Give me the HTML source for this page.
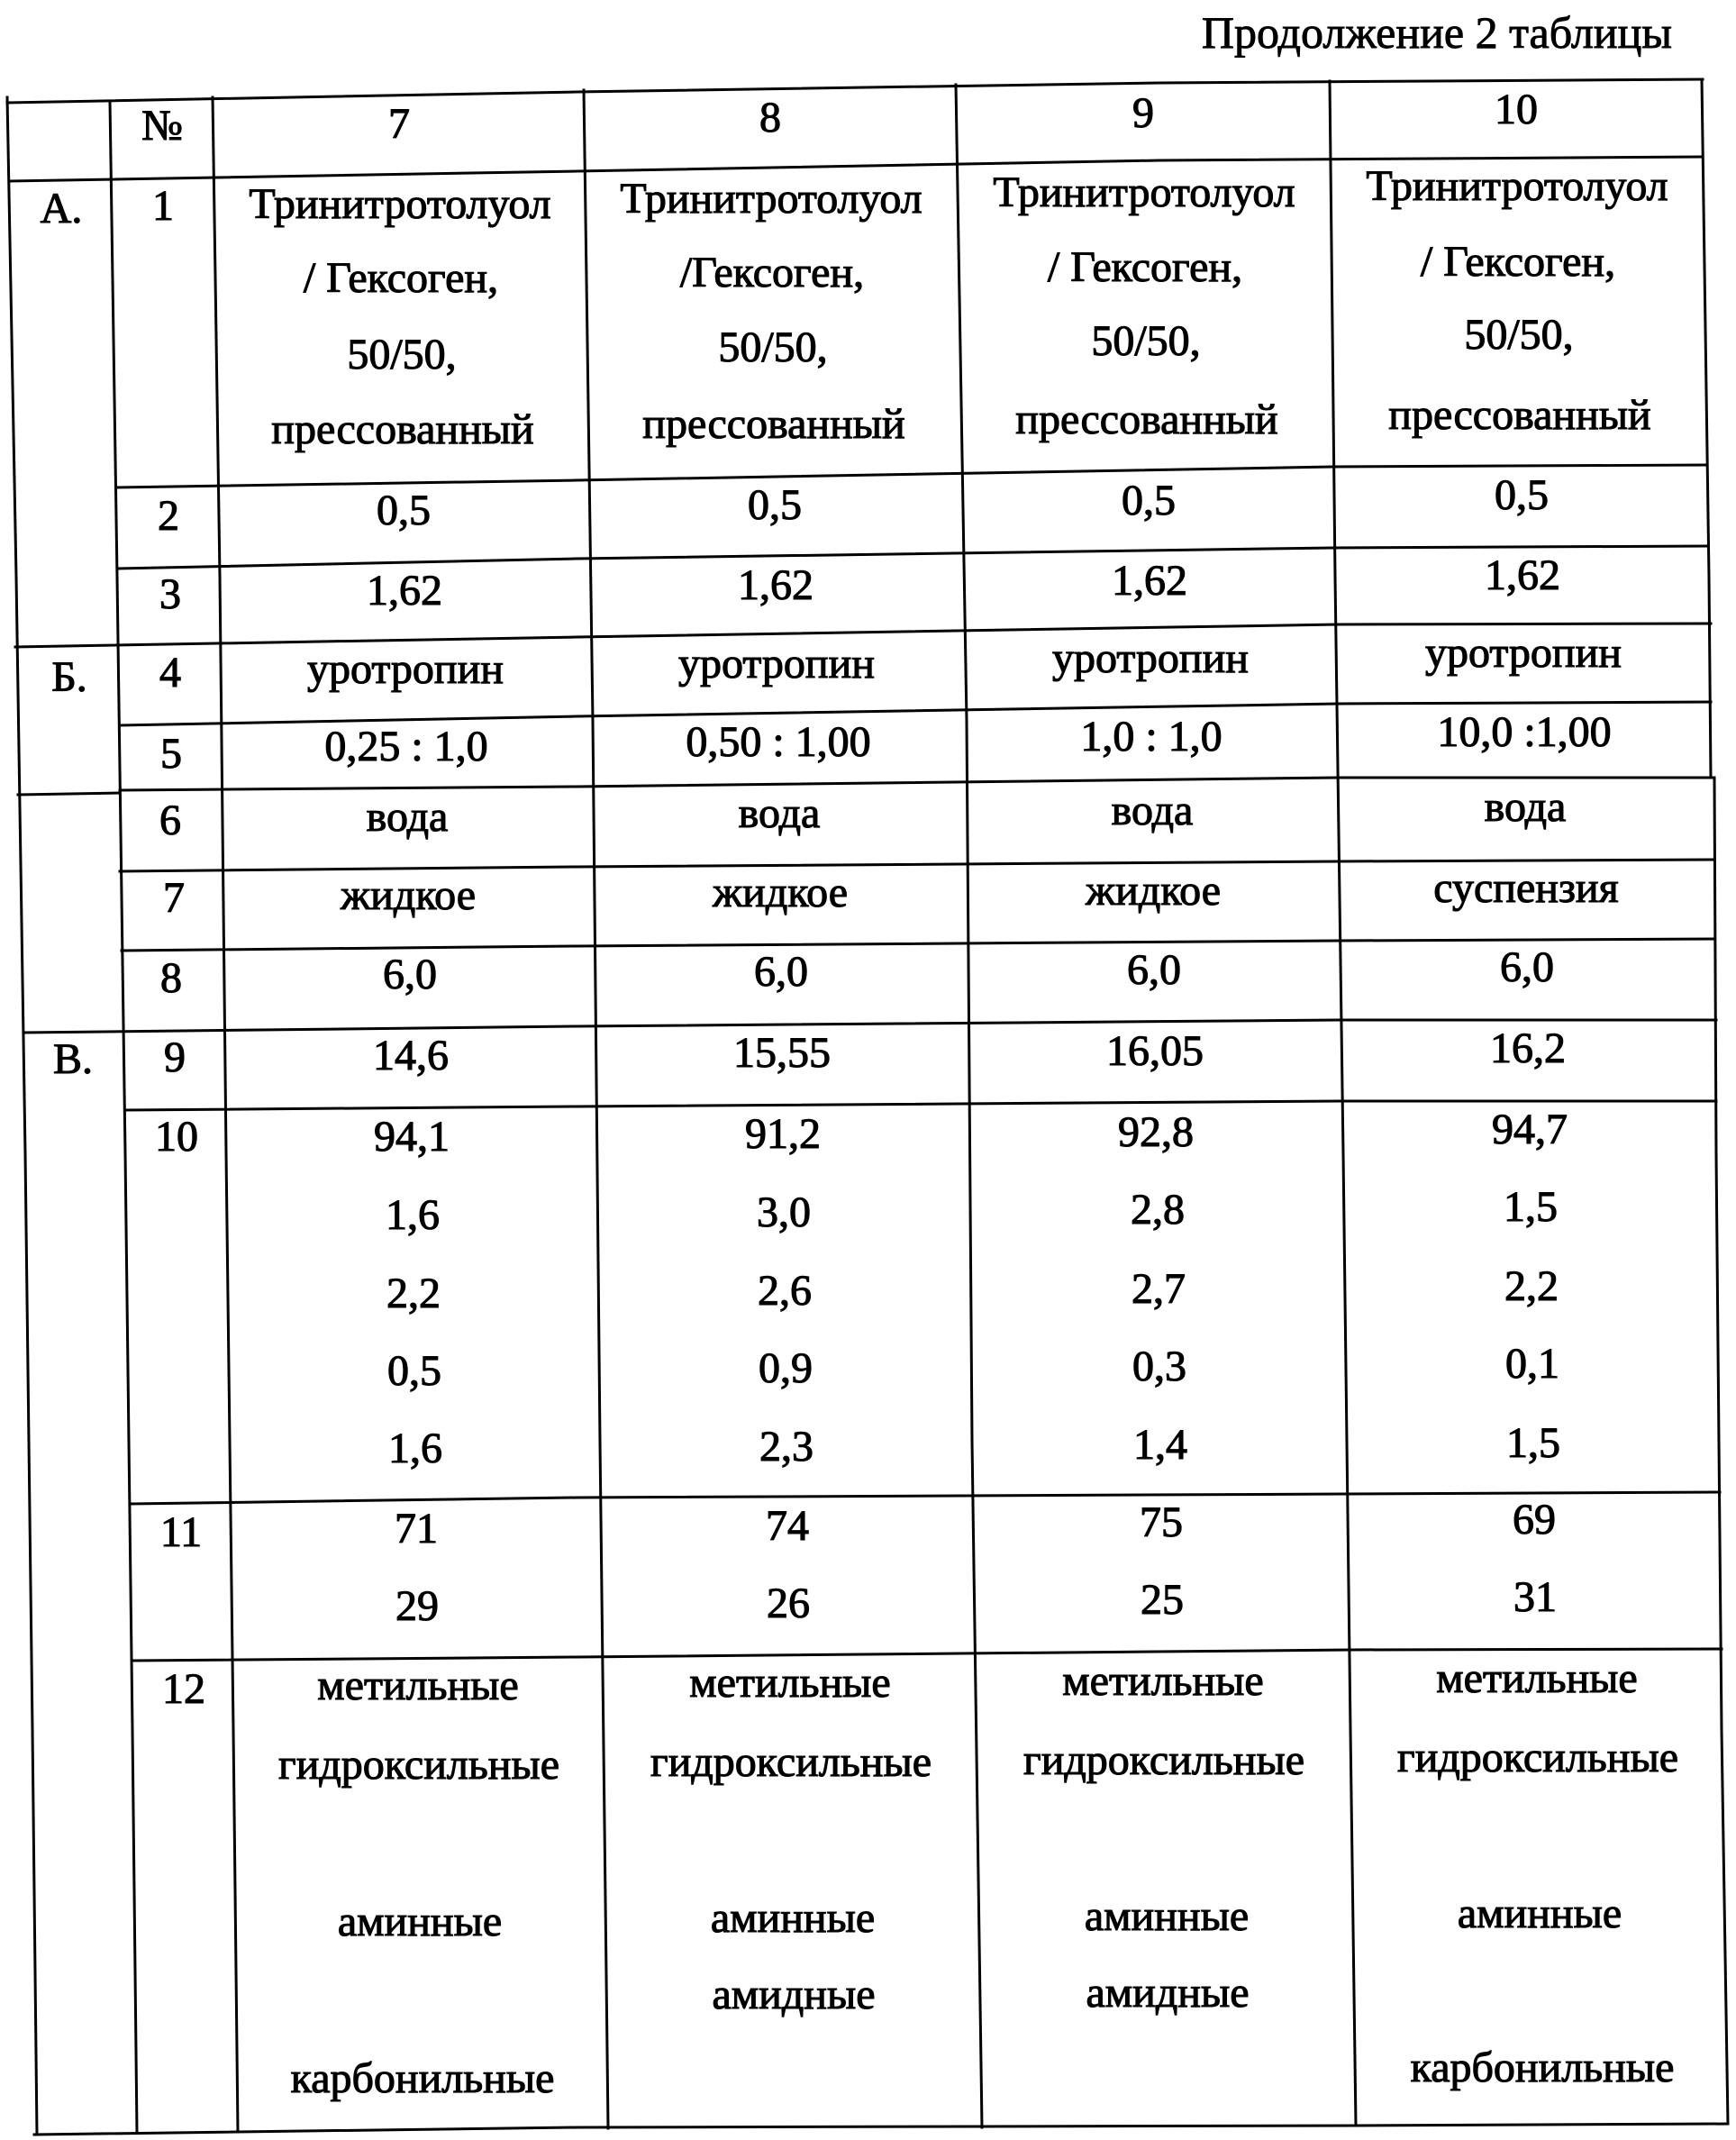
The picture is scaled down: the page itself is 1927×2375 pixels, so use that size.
<!DOCTYPE html>
<html>
<head>
<meta charset="utf-8">
<style>
  html,body{margin:0;padding:0;background:#fff;}
  svg{display:block;}
  text{font-family:"Liberation Serif","DejaVu Serif",serif;font-size:48px;fill:#000;stroke:#000;stroke-width:1.1px;text-anchor:middle;}
  .t{font-size:50px;text-anchor:end;stroke-width:0.9px;}
  .ln{fill:none;stroke:#000;stroke-width:3;stroke-linejoin:round;stroke-linecap:square;}
</style>
</head>
<body>
<svg width="1927" height="2375" viewBox="0 0 1927 2375" xmlns="http://www.w3.org/2000/svg">
<rect x="0" y="0" width="1927" height="2375" fill="#fff"/>

<text class="t" x="1856" y="53">Продолжение 2 таблицы</text>

<!-- horizontal lines -->
<polyline class="ln" points="8,114 640,102 1287,92 1890,88"/>
<polyline class="ln" points="11,201 640,190 1287,178 1890,174"/>
<polyline class="ln" points="130,541 640,533 1479,518 1895,516"/>
<polyline class="ln" points="131,631 640,620 1479,608 1896,606"/>
<polyline class="ln" points="17,718 640,707 1485,693 1899,692"/>
<polyline class="ln" points="133,805 640,795 1485,781 1899,779"/>
<polyline class="ln" points="20,882 133,880"/>
<polyline class="ln" points="133,877 640,873 1485,863 1901,863"/>
<polyline class="ln" points="133,967 640,962 1485,956 1903,954"/>
<polyline class="ln" points="135,1055 640,1050 1485,1044 1903,1042"/>
<polyline class="ln" points="26,1146 640,1139 1485,1132 1905,1132"/>
<polyline class="ln" points="139,1232 640,1228 1485,1222 1905,1222"/>
<polyline class="ln" points="145,1669 640,1662 1493,1658 1909,1656"/>
<polyline class="ln" points="147,1843 640,1839 1499,1831 1911,1830"/>
<polyline class="ln" points="38,2369 640,2361 1505,2359 1918,2357"/>

<!-- vertical lines -->
<polyline class="ln" points="8,108 18,640 28,1280 36,1920 41,2369"/>
<polyline class="ln" points="122,112 130,640 139,1280 147,1920 152,2367"/>
<polyline class="ln" points="236,108 244,640 251,1280 259,1920 264,2365"/>
<polyline class="ln" points="648,100 658,800 666,1600 675,2362"/>
<polyline class="ln" points="1061,94 1073,800 1079,1600 1090,2361"/>
<polyline class="ln" points="1476,90 1482,640 1491,1280 1499,1920 1505,2359"/>
<polyline class="ln" points="1889,88 1897,640 1899,863"/>
<polyline class="ln" points="1903,863 1905,1280 1911,1920 1918,2357"/>

<!-- header -->
<text x="180" y="155">№</text>
<text x="443" y="153">7</text>
<text x="855" y="146">8</text>
<text x="1269" y="141">9</text>
<text x="1683" y="137">10</text>

<!-- section letters -->
<text x="68" y="247">А.</text>
<text x="77" y="767">Б.</text>
<text x="81" y="1191">В.</text>

<!-- row numbers -->
<text x="181" y="244">1</text>
<text x="187" y="588">2</text>
<text x="189" y="675">3</text>
<text x="189" y="762">4</text>
<text x="190" y="852">5</text>
<text x="189" y="926">6</text>
<text x="193" y="1012">7</text>
<text x="190" y="1101">8</text>
<text x="194" y="1189">9</text>
<text x="196" y="1277">10</text>
<text x="201" y="1716">11</text>
<text x="204" y="1890">12</text>

<!-- row 1 -->
<text x="444" y="242">Тринитротолуол</text>
<text x="445" y="324">/ Гексоген,</text>
<text x="446" y="409">50/50,</text>
<text x="447" y="492">прессованный</text>

<text x="856" y="236">Тринитротолуол</text>
<text x="857" y="318">/Гексоген,</text>
<text x="858" y="401">50/50,</text>
<text x="859" y="486">прессованный</text>

<text x="1270" y="229">Тринитротолуол</text>
<text x="1271" y="312">/ Гексоген,</text>
<text x="1272" y="394">50/50,</text>
<text x="1273" y="481">прессованный</text>

<text x="1684" y="222">Тринитротолуол</text>
<text x="1685" y="306">/ Гексоген,</text>
<text x="1686" y="387">50/50,</text>
<text x="1687" y="476">прессованный</text>

<!-- row 2 -->
<text x="448" y="582">0,5</text>
<text x="860" y="576">0,5</text>
<text x="1275" y="571">0,5</text>
<text x="1689" y="565">0,5</text>

<!-- row 3 -->
<text x="449" y="671">1,62</text>
<text x="861" y="665">1,62</text>
<text x="1276" y="660">1,62</text>
<text x="1690" y="654">1,62</text>

<!-- row 4 -->
<text x="450" y="758">уротропин</text>
<text x="862" y="752">уротропин</text>
<text x="1277" y="746">уротропин</text>
<text x="1691" y="740">уротропин</text>

<!-- row 5 -->
<text x="451" y="844">0,25 : 1,0</text>
<text x="864" y="839">0,50 : 1,00</text>
<text x="1278" y="833">1,0 : 1,0</text>
<text x="1692" y="828">10,0 :1,00</text>

<!-- row 6 -->
<text x="452" y="922">вода</text>
<text x="865" y="918">вода</text>
<text x="1279" y="915">вода</text>
<text x="1693" y="911">вода</text>

<!-- row 7 -->
<text x="453" y="1009">жидкое</text>
<text x="866" y="1006">жидкое</text>
<text x="1280" y="1004">жидкое</text>
<text x="1694" y="1001">суспензия</text>

<!-- row 8 -->
<text x="455" y="1097">6,0</text>
<text x="867" y="1094">6,0</text>
<text x="1281" y="1092">6,0</text>
<text x="1695" y="1089">6,0</text>

<!-- row 9 -->
<text x="456" y="1187">14,6</text>
<text x="868" y="1184">15,55</text>
<text x="1282" y="1182">16,05</text>
<text x="1696" y="1179">16,2</text>

<!-- row 10 -->
<text x="457" y="1277">94,1</text>
<text x="869" y="1274">91,2</text>
<text x="1283" y="1272">92,8</text>
<text x="1698" y="1269">94,7</text>

<text x="458" y="1364">1,6</text>
<text x="870" y="1361">3,0</text>
<text x="1285" y="1358">2,8</text>
<text x="1699" y="1355">1,5</text>

<text x="459" y="1451">2,2</text>
<text x="871" y="1448">2,6</text>
<text x="1286" y="1446">2,7</text>
<text x="1700" y="1443">2,2</text>

<text x="460" y="1537">0,5</text>
<text x="872" y="1534">0,9</text>
<text x="1287" y="1532">0,3</text>
<text x="1701" y="1529">0,1</text>

<text x="461" y="1623">1,6</text>
<text x="873" y="1621">2,3</text>
<text x="1288" y="1619">1,4</text>
<text x="1702" y="1617">1,5</text>

<!-- row 11 -->
<text x="462" y="1712">71</text>
<text x="874" y="1709">74</text>
<text x="1289" y="1705">75</text>
<text x="1703" y="1702">69</text>

<text x="463" y="1798">29</text>
<text x="875" y="1795">26</text>
<text x="1290" y="1791">25</text>
<text x="1704" y="1788">31</text>

<!-- row 12 -->
<text x="464" y="1886">метильные</text>
<text x="877" y="1883">метильные</text>
<text x="1291" y="1881">метильные</text>
<text x="1706" y="1878">метильные</text>

<text x="465" y="1974">гидроксильные</text>
<text x="878" y="1971">гидроксильные</text>
<text x="1292" y="1969">гидроксильные</text>
<text x="1707" y="1966">гидроксильные</text>

<text x="466" y="2148">аминные</text>
<text x="880" y="2144">аминные</text>
<text x="1295" y="2142">аминные</text>
<text x="1709" y="2139">аминные</text>

<text x="881" y="2229">амидные</text>
<text x="1296" y="2227">амидные</text>

<text x="469" y="2322">карбонильные</text>
<text x="1712" y="2310">карбонильные</text>
</svg>
</body>
</html>
